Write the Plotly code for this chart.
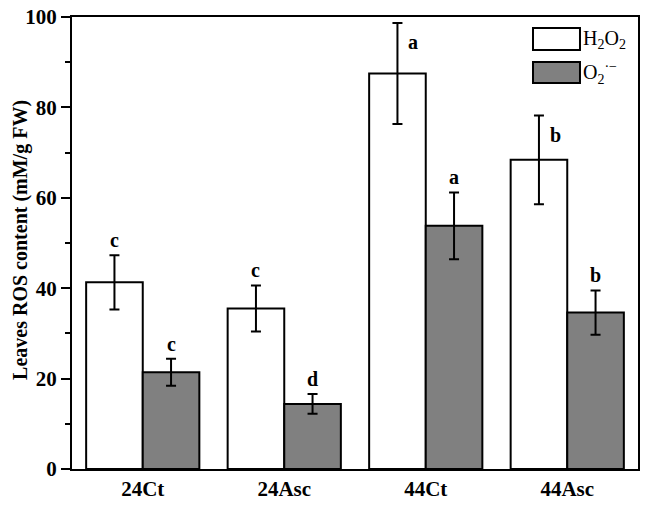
import plotly.graph_objects as go

categories = ["24Ct", "24Asc", "44Ct", "44Asc"]
h2o2 = [41.3, 35.5, 87.5, 68.4]
h2o2_err = [6.0, 5.1, 11.2, 9.8]
o2 = [21.4, 14.4, 53.8, 34.6]
o2_err = [3.0, 2.2, 7.4, 4.9]
h2o2_letters = ["c", "c", "a", "b"]
o2_letters = ["c", "d", "a", "b"]
y_ticks = [0, 20, 40, 60, 80, 100]

FONT = "Liberation Serif"

fig = go.Figure()
fig.add_trace(go.Bar(
    x=categories, y=h2o2, name="H2O2",
    marker=dict(color="white", line=dict(color="black", width=2)),
    error_y=dict(type="data", array=h2o2_err, color="black", thickness=2, width=5),
    showlegend=False,
))
fig.add_trace(go.Bar(
    x=categories, y=o2, name="O2",
    marker=dict(color="#808080", line=dict(color="black", width=2)),
    error_y=dict(type="data", array=o2_err, color="black", thickness=2, width=5),
    showlegend=False,
))

annotations = []
for i, (v, e, l) in enumerate(zip(h2o2, h2o2_err, h2o2_letters)):
    if v > 60:
        annotations.append(dict(x=i - 0.2, y=v + e, text=l, showarrow=False,
                                xanchor="left", yanchor="top", xshift=9, yshift=-6,
                                font=dict(family=FONT, size=20, color="black", weight="bold")))
    else:
        annotations.append(dict(x=i - 0.2, y=v + e, text=l, showarrow=False,
                                yanchor="bottom", yshift=2,
                                font=dict(family=FONT, size=20, color="black", weight="bold")))
for i, (v, e, l) in enumerate(zip(o2, o2_err, o2_letters)):
    annotations.append(dict(x=i + 0.2, y=v + e, text=l, showarrow=False,
                            yanchor="bottom", yshift=2,
                            font=dict(family=FONT, size=20, color="black", weight="bold")))

# y-axis title as annotation for exact placement
annotations.append(dict(xref="paper", yref="paper", x=-0.09, y=0.507,
                        text="Leaves ROS content (mM/g FW)", textangle=-90, showarrow=False,
                        xanchor="center", yanchor="middle",
                        font=dict(family=FONT, size=20, color="black", weight="bold")))

# manual legend
annotations.append(dict(xref="paper", yref="paper", x=0.9, y=0.951, text="H<sub>2</sub>O<sub>2</sub>",
                        showarrow=False, xanchor="left", yanchor="middle",
                        font=dict(family=FONT, size=20, color="black")))
annotations.append(dict(xref="paper", yref="paper", x=0.9, y=0.877, text="O<sub>2</sub><sup>·−</sup>",
                        showarrow=False, xanchor="left", yanchor="middle",
                        font=dict(family=FONT, size=20, color="black")))
shapes = [
    dict(type="rect", xref="paper", yref="paper", x0=0.8145, x1=0.8975, y0=0.927, y1=0.9757,
         fillcolor="white", line=dict(color="black", width=2)),
    dict(type="rect", xref="paper", yref="paper", x0=0.8145, x1=0.8975, y0=0.854, y1=0.9004,
         fillcolor="#808080", line=dict(color="black", width=2)),
]

fig.update_layout(
    width=646, height=505,
    margin=dict(l=72, r=8, t=17, b=36, autoexpand=False),
    paper_bgcolor="white", plot_bgcolor="white",
    barmode="group", bargap=0.2, bargroupgap=0,
    annotations=annotations, shapes=shapes,
    font=dict(family=FONT, color="black"),
)
fig.update_xaxes(
    showline=True, linecolor="black", linewidth=2, mirror=True,
    ticks="", showgrid=False, automargin=False,
    tickfont=dict(family=FONT, size=21, color="black", weight="bold"),
    range=[-0.5, 3.5],
)
fig.update_yaxes(
    range=[0, 100], tickvals=y_ticks, ticktext=[str(t) for t in y_ticks],
    showline=True, linecolor="black", linewidth=2, mirror=True,
    ticks="outside", ticklen=9, tickwidth=2, tickcolor="black",
    minor=dict(dtick=10, ticks="outside", ticklen=5, tickwidth=2, tickcolor="black", showgrid=False),
    showgrid=False, zeroline=False, automargin=False,
    tickfont=dict(family=FONT, size=21, color="black", weight="bold"),
)

fig.write_html("out.html", config={"displayModeBar": False},
               post_script="document.body.style.margin='0';")
